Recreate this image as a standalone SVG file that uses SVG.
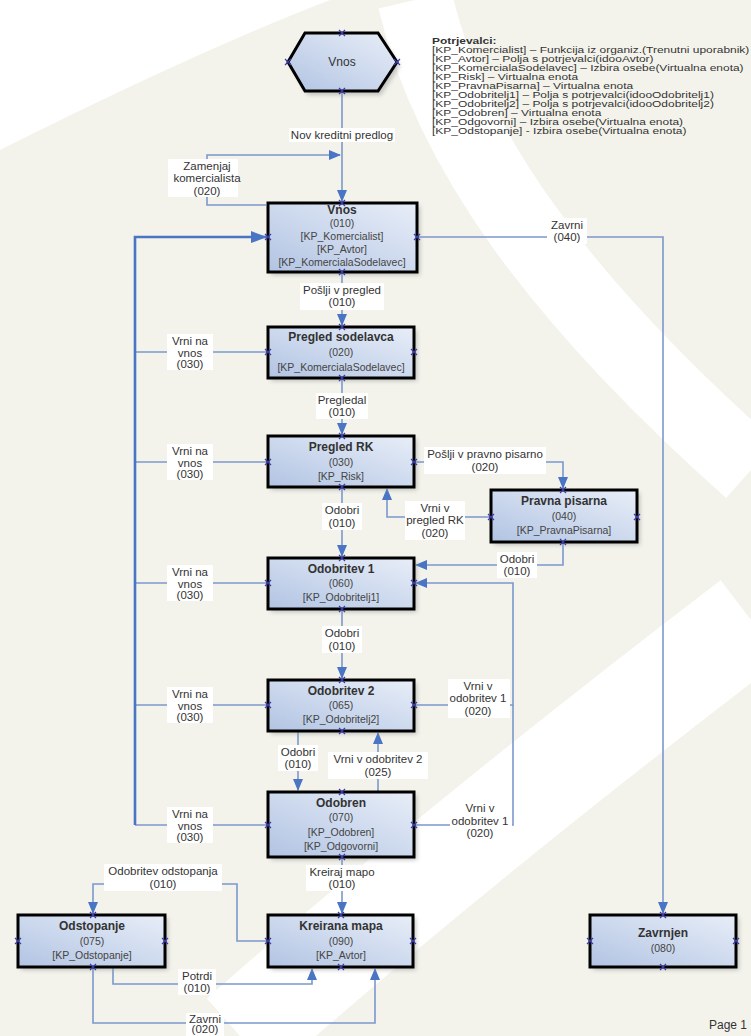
<svg xmlns="http://www.w3.org/2000/svg" width="751" height="1036" viewBox="0 0 751 1036">
<defs>
<linearGradient id="gf" x1="1" y1="0" x2="0" y2="1">
<stop offset="0" stop-color="#e8eef8"/>
<stop offset="1" stop-color="#b2c4e3"/>
</linearGradient>
<filter id="sh" x="-10%" y="-10%" width="130%" height="140%">
<feGaussianBlur stdDeviation="2"/>
</filter>
<marker id="ar" markerWidth="12" markerHeight="10" refX="11" refY="5" orient="auto" markerUnits="userSpaceOnUse">
<path d="M0,0 L12,5 L0,10 Z" fill="#4a74c4"/>
</marker>
<marker id="arb" markerWidth="16" markerHeight="12" refX="15" refY="6" orient="auto" markerUnits="userSpaceOnUse">
<path d="M0,0 L16,6 L0,12 Z" fill="#4a74c4"/>
</marker>
<symbol id="cp" overflow="visible">
<path d="M-3,-3 L3,3 M-3,3 L3,-3" stroke="#3a3aa8" stroke-width="1.2"/>
</symbol>
</defs>
<style>
text{font-family:"Liberation Sans",Arial,sans-serif;}
.box{fill:url(#gf);stroke:#000;stroke-width:3;}
.shd{fill:#9a9a9a;opacity:0.55;filter:url(#sh);}
.t{font-size:12px;font-weight:bold;fill:#333;text-anchor:middle;}
.b{font-size:10.5px;fill:#444;text-anchor:middle;}
.l{font-size:11.5px;fill:#333;text-anchor:middle;}
.lb{fill:#fff;}
.c{fill:none;stroke:#7b98cc;stroke-width:1.6;}
.ca{marker-end:url(#ar);}
.trunk{fill:none;stroke:#4a74c4;stroke-width:2.6;marker-end:url(#arb);}
.lg{font-size:9.5px;fill:#333;}
</style>
<rect x="0" y="0" width="751" height="1036" fill="#f3f3ec"/>
<g id="background" fill="none" stroke="#ffffff">
<path d="M0,0 H330 Q200,50 0,150 Z" fill="#ffffff" stroke="none"/>
<path d="M415,0 C450,150 560,300 751,470" stroke-width="75"/>
<path d="M240,1036 Q450,850 751,620" stroke-width="100"/>
</g>

<g id="legend" transform="translate(432,0) scale(1.26,1)">
<text class="lg" x="0" y="44" font-weight="bold">Potrjevalci:</text>
<text class="lg" x="0" y="53">[KP_Komercialist] – Funkcija iz organiz.(Trenutni uporabnik)</text>
<text class="lg" x="0" y="62">[KP_Avtor] – Polja s potrjevalci(idooAvtor)</text>
<text class="lg" x="0" y="71">[KP_KomercialaSodelavec] – Izbira osebe(Virtualna enota)</text>
<text class="lg" x="0" y="80">[KP_Risk] – Virtualna enota</text>
<text class="lg" x="0" y="89">[KP_PravnaPisarna] – Virtualna enota</text>
<text class="lg" x="0" y="98">[KP_Odobritelj1] – Polja s potrjevalci(idooOdobritelj1)</text>
<text class="lg" x="0" y="107">[KP_Odobritelj2] – Polja s potrjevalci(idooOdobritelj2)</text>
<text class="lg" x="0" y="116">[KP_Odobren] – Virtualna enota</text>
<text class="lg" x="0" y="125">[KP_Odgovorni] – Izbira osebe(Virtualna enota)</text>
<text class="lg" x="0" y="134">[KP_Odstopanje] - Izbira osebe(Virtualna enota)</text>
</g>

<g id="connectors">
<path class="c ca" d="M342,91 V201"/>
<path class="c ca" d="M266,205 H207 V155 H340"/>
<path class="c ca" d="M342,272 V325"/>
<path class="c" d="M268,352 H135"/>
<path class="c" d="M268,462 H135"/>
<path class="c" d="M268,583 H135"/>
<path class="c" d="M268,705 H135"/>
<path class="c" d="M268,825 H135"/>
<path class="trunk" d="M135,825 V237 H266"/>
<path class="c ca" d="M342,378 V434"/>
<path class="c ca" d="M342,487 V556"/>
<path class="c ca" d="M414,462 H563 V488"/>
<path class="c ca" d="M491,517 H387 V489"/>
<path class="c ca" d="M563,542 V565 H416"/>
<path class="c ca" d="M342,609 V678"/>
<path class="c ca" d="M414,705 H513 V583 H416"/>
<path class="c" d="M414,825 H513 V705"/>
<path class="c ca" d="M298,731 V790"/>
<path class="c ca" d="M378,792 V733"/>
<path class="c ca" d="M342,857 V913"/>
<path class="c ca" d="M268,941 H237 V884 H93 V913"/>
<path class="c ca" d="M113,967 V984 H312 V969"/>
<path class="c ca" d="M93,967 V1023 H375 V969"/>
<path class="c ca" d="M417,237 H663 V913"/>
</g>

<g id="labels">
<rect class="lb" x="289" y="128" width="106" height="14"/>
<text class="l" x="342" y="139">Nov kreditni predlog</text>
<rect class="lb" x="168" y="159" width="70" height="38"/>
<text class="l" x="207" y="170">Zamenjaj</text>
<text class="l" x="207" y="182">komercialista</text>
<text class="l" x="207" y="195">(020)</text>
<rect class="lb" x="300" y="283" width="84" height="27"/>
<text class="l" x="342" y="294">Pošlji v pregled</text>
<text class="l" x="342" y="306">(010)</text>
<rect class="lb" x="316" y="393" width="52" height="26"/>
<text class="l" x="342" y="404">Pregledal</text>
<text class="l" x="342" y="416">(010)</text>
<rect class="lb" x="322" y="503" width="40" height="27"/>
<text class="l" x="342" y="514">Odobri</text>
<text class="l" x="342" y="527">(010)</text>
<rect class="lb" x="424" y="447" width="122" height="27"/>
<text class="l" x="485" y="458">Pošlji v pravno pisarno</text>
<text class="l" x="485" y="471">(020)</text>
<rect class="lb" x="405" y="501" width="60" height="39"/>
<text class="l" x="435" y="512">Vrni v</text>
<text class="l" x="435" y="524">pregled RK</text>
<text class="l" x="435" y="537">(020)</text>
<rect class="lb" x="497" y="552" width="40" height="26"/>
<text class="l" x="517" y="563">Odobri</text>
<text class="l" x="517" y="575">(010)</text>
<rect class="lb" x="322" y="626" width="40" height="27"/>
<text class="l" x="342" y="637">Odobri</text>
<text class="l" x="342" y="650">(010)</text>
<rect class="lb" x="448" y="679" width="62" height="39"/>
<text class="l" x="478" y="690">Vrni v</text>
<text class="l" x="478" y="702">odobritev 1</text>
<text class="l" x="478" y="715">(020)</text>
<rect class="lb" x="278" y="745" width="40" height="26"/>
<text class="l" x="298" y="756">Odobri</text>
<text class="l" x="298" y="768">(010)</text>
<rect class="lb" x="328" y="752" width="100" height="27"/>
<text class="l" x="378" y="763">Vrni v odobritev 2</text>
<text class="l" x="378" y="776">(025)</text>
<rect class="lb" x="450" y="801" width="62" height="39"/>
<text class="l" x="480" y="812">Vrni v</text>
<text class="l" x="480" y="825">odobritev 1</text>
<text class="l" x="480" y="837">(020)</text>
<rect class="lb" x="306" y="865" width="72" height="26"/>
<text class="l" x="342" y="876">Kreiraj mapo</text>
<text class="l" x="342" y="888">(010)</text>
<rect class="lb" x="104" y="864" width="118" height="27"/>
<text class="l" x="163" y="875">Odobritev odstopanja</text>
<text class="l" x="163" y="888">(010)</text>
<rect class="lb" x="178" y="969" width="38" height="26"/>
<text class="l" x="197" y="980">Potrdi</text>
<text class="l" x="197" y="992">(010)</text>
<rect class="lb" x="186" y="1013" width="38" height="23"/>
<text class="l" x="205" y="1023">Zavrni</text>
<text class="l" x="205" y="1033">(020)</text>
<rect class="lb" x="547" y="218" width="40" height="26"/>
<text class="l" x="567" y="229">Zavrni</text>
<text class="l" x="567" y="241">(040)</text>
<g class="vr">
<rect class="lb" x="167" y="334" width="46" height="36"/>
<text class="l" x="190" y="345">Vrni na</text>
<text class="l" x="190" y="357">vnos</text>
<text class="l" x="190" y="368">(030)</text>
<rect class="lb" x="167" y="444" width="46" height="36"/>
<text class="l" x="190" y="455">Vrni na</text>
<text class="l" x="190" y="467">vnos</text>
<text class="l" x="190" y="478">(030)</text>
<rect class="lb" x="167" y="565" width="46" height="36"/>
<text class="l" x="190" y="576">Vrni na</text>
<text class="l" x="190" y="588">vnos</text>
<text class="l" x="190" y="599">(030)</text>
<rect class="lb" x="167" y="687" width="46" height="36"/>
<text class="l" x="190" y="698">Vrni na</text>
<text class="l" x="190" y="710">vnos</text>
<text class="l" x="190" y="721">(030)</text>
<rect class="lb" x="167" y="807" width="46" height="36"/>
<text class="l" x="190" y="818">Vrni na</text>
<text class="l" x="190" y="830">vnos</text>
<text class="l" x="190" y="841">(030)</text>
</g>
</g>

<g id="start">
<polygon points="291,66 308,37 381,37 400,66 381,95 308,95" class="shd"/>
<polygon points="288,62 305,33 378,33 397,62 378,91 305,91" class="box"/>
<text x="342" y="66" font-size="12" fill="#333" text-anchor="middle">Vnos</text>
<use href="#cp" x="342" y="33"/><use href="#cp" x="342" y="91"/><use href="#cp" x="288" y="62"/><use href="#cp" x="397" y="62"/>
</g>

<g id="n010">
<rect class="shd" x="271" y="206" width="149" height="69"/>
<rect class="box" x="268" y="203" width="149" height="69"/>
<text class="t" x="342" y="214">Vnos</text>
<text class="b" x="342" y="227">(010)</text>
<text class="b" x="342" y="240">[KP_Komercialist]</text>
<text class="b" x="342" y="253">[KP_Avtor]</text>
<text class="b" x="342" y="266">[KP_KomercialaSodelavec]</text>
<use href="#cp" x="342" y="203"/><use href="#cp" x="342" y="272"/><use href="#cp" x="268" y="237"/><use href="#cp" x="417" y="237"/>
</g>

<g id="n020">
<rect class="shd" x="271" y="330" width="146" height="51"/>
<rect class="box" x="268" y="327" width="146" height="51"/>
<text class="t" x="341" y="341">Pregled sodelavca</text>
<text class="b" x="341" y="356">(020)</text>
<text class="b" x="341" y="371">[KP_KomercialaSodelavec]</text>
<use href="#cp" x="342" y="327"/><use href="#cp" x="342" y="378"/><use href="#cp" x="268" y="352"/><use href="#cp" x="414" y="352"/>
</g>

<g id="n030">
<rect class="shd" x="271" y="439" width="146" height="51"/>
<rect class="box" x="268" y="436" width="146" height="51"/>
<text class="t" x="341" y="451">Pregled RK</text>
<text class="b" x="341" y="466">(030)</text>
<text class="b" x="341" y="480">[KP_Risk]</text>
<use href="#cp" x="342" y="436"/><use href="#cp" x="342" y="487"/><use href="#cp" x="268" y="462"/><use href="#cp" x="414" y="462"/>
</g>

<g id="n040">
<rect class="shd" x="494" y="493" width="146" height="52"/>
<rect class="box" x="491" y="490" width="146" height="52"/>
<text class="t" x="564" y="505">Pravna pisarna</text>
<text class="b" x="564" y="520">(040)</text>
<text class="b" x="564" y="534">[KP_PravnaPisarna]</text>
<use href="#cp" x="563" y="490"/><use href="#cp" x="563" y="542"/><use href="#cp" x="491" y="517"/><use href="#cp" x="637" y="517"/>
</g>

<g id="n060">
<rect class="shd" x="271" y="561" width="146" height="51"/>
<rect class="box" x="268" y="558" width="146" height="51"/>
<text class="t" x="341" y="573">Odobritev 1</text>
<text class="b" x="341" y="587">(060)</text>
<text class="b" x="341" y="601">[KP_Odobritelj1]</text>
<use href="#cp" x="342" y="558"/><use href="#cp" x="342" y="609"/><use href="#cp" x="268" y="583"/><use href="#cp" x="414" y="583"/>
</g>

<g id="n065">
<rect class="shd" x="271" y="683" width="146" height="51"/>
<rect class="box" x="268" y="680" width="146" height="51"/>
<text class="t" x="341" y="695">Odobritev 2</text>
<text class="b" x="341" y="709">(065)</text>
<text class="b" x="341" y="723">[KP_Odobritelj2]</text>
<use href="#cp" x="342" y="680"/><use href="#cp" x="342" y="731"/><use href="#cp" x="268" y="705"/><use href="#cp" x="414" y="705"/>
</g>

<g id="n070">
<rect class="shd" x="271" y="795" width="146" height="65"/>
<rect class="box" x="268" y="792" width="146" height="65"/>
<text class="t" x="341" y="807">Odobren</text>
<text class="b" x="341" y="821">(070)</text>
<text class="b" x="341" y="836">[KP_Odobren]</text>
<text class="b" x="341" y="850">[KP_Odgovorni]</text>
<use href="#cp" x="342" y="792"/><use href="#cp" x="342" y="857"/><use href="#cp" x="268" y="825"/><use href="#cp" x="414" y="825"/>
</g>

<g id="n075">
<rect class="shd" x="21" y="918" width="147" height="52"/>
<rect class="box" x="18" y="915" width="147" height="52"/>
<text class="t" x="92" y="930">Odstopanje</text>
<text class="b" x="92" y="945">(075)</text>
<text class="b" x="92" y="959">[KP_Odstopanje]</text>
<use href="#cp" x="93" y="915"/><use href="#cp" x="93" y="967"/><use href="#cp" x="18" y="941"/><use href="#cp" x="165" y="941"/>
</g>

<g id="n090">
<rect class="shd" x="271" y="918" width="145" height="52"/>
<rect class="box" x="268" y="915" width="145" height="52"/>
<text class="t" x="341" y="930">Kreirana mapa</text>
<text class="b" x="341" y="945">(090)</text>
<text class="b" x="341" y="959">[KP_Avtor]</text>
<use href="#cp" x="341" y="915"/><use href="#cp" x="341" y="967"/><use href="#cp" x="268" y="941"/><use href="#cp" x="413" y="941"/>
</g>

<g id="n080">
<rect class="shd" x="593" y="918" width="146" height="52"/>
<rect class="box" x="590" y="915" width="146" height="52"/>
<text class="t" x="663" y="937">Zavrnjen</text>
<text class="b" x="663" y="952">(080)</text>
<use href="#cp" x="663" y="915"/><use href="#cp" x="663" y="967"/><use href="#cp" x="590" y="941"/><use href="#cp" x="736" y="941"/>
</g>

<text x="747" y="1029" font-size="12" fill="#333" text-anchor="end">Page 1</text>
</svg>
